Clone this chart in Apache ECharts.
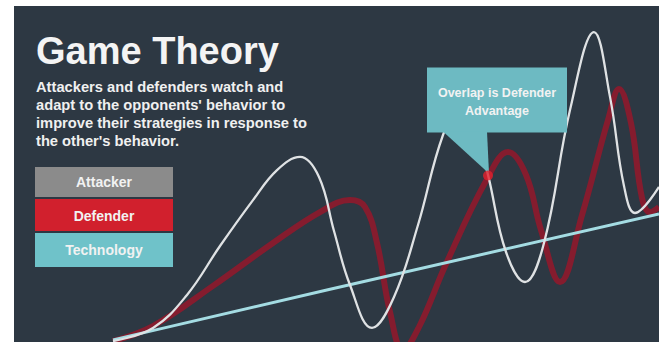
<!DOCTYPE html>
<html><head><meta charset="utf-8">
<script src="https://cdn.jsdelivr.net/npm/echarts@6/dist/echarts.min.js"></script>
<style>html,body{margin:0;padding:0;background:#fff}#c{width:659px;height:342px}</style>
</head><body><div id="c"></div>
<script>
// ---- data (x: time units, y: strategy level) ----
const seriesNames = ['Attacker', 'Defender', 'Technology'];
const attacker = [
  [19.8,0.3],[27.8,4.7],[34.6,15.7],[41.2,32],[47.8,47.3],[52.6,57.3],[57.2,61.7],[61,55],
  [64,37],[67.2,19],[71.6,4.7],[76,15],[80.8,39],[85.8,69],[90.4,83.3],[94.8,55.7],[98.4,30],
  [102.2,20],[106,33],[111.2,77.3],[116,103.3],[119.2,81.7],[122,52],[124.2,43],[129,51.7]
];
const defender = [
  [19.8,0.3],[27.8,5.3],[39.8,18.7],[51.8,33],[61.2,43.3],[67.2,47.3],[70.2,45],[72.6,33],
  [75.2,10],[77.8,-2.7],[81,5],[86.4,26],[94.4,53.7],[98.8,63.3],[102.4,55.7],[105.4,37.3],
  [109.2,20],[113.6,42.3],[118.8,74],[121,84.3],[123.4,73],[125.6,48],[127.2,43.3],[129,45]
];
const technology = [[19.8,0.7],[63,17.5],[129,42.7]];
const overlapPoint = [[94.8,55.5]];
const gridLevels = [100, 81, 61.7, 42, 22.7, 3.3];
const gridStarts = [62.6, 62.6, 38.6, 33.8, 25.4, 20.4];
const titleText = 'Game Theory';
const subtitleLines = [
  'Attackers and defenders watch and',
  "adapt to the opponents' behavior to",
  'improve their strategies in response to',
  "the other's behavior."
];
const calloutLines = ['Overlap is Defender', 'Advantage'];
const legendColors = ['#8b8b8b', '#d1202d', '#6fc2c9'];

// ---- chart ----
const chart = echarts.init(document.getElementById('c'), null, {renderer: 'svg'});
const FONT = '"Liberation Sans", Arial, sans-serif';
const gridGrad = new echarts.graphic.LinearGradient(0, 0, 1, 0, [
  {offset: 0, color: 'rgba(82,94,106,0)'},
  {offset: 0.3, color: 'rgba(82,94,106,1)'},
  {offset: 1, color: 'rgba(82,94,106,1)'}
]);

const gridSeries = gridLevels.map((y, i) => ({
  type: 'line', silent: true, symbol: 'none', z: 1,
  data: [[gridStarts[i], y], [129, y]],
  lineStyle: {width: 1.5, color: gridGrad}
}));

const textEls = [];
textEls.push({type: 'text', z: 10, style: {text: titleText, x: 36, y: 50.5, fill: '#f4f4f4',
  font: 'bold 38px ' + FONT, verticalAlign: 'middle'}});
subtitleLines.forEach((t, i) => textEls.push({type: 'text', z: 10, style: {text: t, x: 36,
  y: 86.5 + i * 18, fill: '#f0f0f0', font: 'bold 14.7px ' + FONT, verticalAlign: 'middle'}}));
const boxTops = [167, 199, 233];
const boxHeights = [30, 32, 34];
const labelY = [182, 216, 250];
seriesNames.forEach((n, i) => {
  textEls.push({type: 'rect', z: 10, shape: {x: 35, y: boxTops[i], width: 138, height: boxHeights[i]},
    style: {fill: legendColors[i]}});
  textEls.push({type: 'text', z: 11, style: {text: n, x: 104, y: labelY[i], fill: '#f2f2f2',
    font: 'bold 14px ' + FONT, align: 'center', verticalAlign: 'middle'}});
});

chart.setOption({
  animation: false,
  backgroundColor: '#ffffff',
  grid: {left: 14, right: 0, top: 6, bottom: 0, show: true, backgroundColor: '#2d3843', borderWidth: 0},
  xAxis: {type: 'value', min: 0, max: 129, show: false},
  yAxis: {type: 'value', min: 0, max: 112, show: false},
  series: gridSeries.concat([
    {type: 'line', name: 'Defender', data: defender, smooth: 0.4, symbol: 'none', z: 3,
      lineStyle: {color: '#8a1a2d', width: 6, opacity: 0.95}},
    {type: 'line', name: 'Technology', data: technology, symbol: 'none', z: 4,
      lineStyle: {color: '#a4dce3', width: 3}},
    {type: 'line', name: 'Attacker', data: attacker, smooth: 0.4, symbol: 'none', z: 5,
      lineStyle: {color: '#dfe2e4', width: 2.3}},
    {type: 'scatter', name: 'Overlap', data: overlapPoint, symbolSize: 10, z: 20,
      itemStyle: {color: '#e0212d'}}
  ]),
  graphic: textEls
});

// callout anchored to the overlap point
const tip = chart.convertToPixel({gridIndex: 0}, overlapPoint[0]);
const calloutColor = '#6dbac2';
const callout = [
  {type: 'rect', z: 12, shape: {x: tip[0] - 61, y: tip[1] - 108, width: 140, height: 65},
    style: {fill: calloutColor}},
  {type: 'polygon', z: 12, shape: {points: [[tip[0] - 45, tip[1] - 44], [tip[0] - 1, tip[1] - 44], [tip[0] + 1, tip[1] - 2]]},
    style: {fill: calloutColor}},
  {type: 'text', z: 13, style: {text: calloutLines[0], x: tip[0] + 9, y: tip[1] - 82.5, fill: '#f2f2f2',
    font: 'bold 12.5px ' + FONT, align: 'center', verticalAlign: 'middle'}},
  {type: 'text', z: 13, style: {text: calloutLines[1], x: tip[0] + 9, y: tip[1] - 65, fill: '#f2f2f2',
    font: 'bold 12.5px ' + FONT, align: 'center', verticalAlign: 'middle'}}
];
chart.setOption({graphic: textEls.concat(callout)});
</script></body></html>
